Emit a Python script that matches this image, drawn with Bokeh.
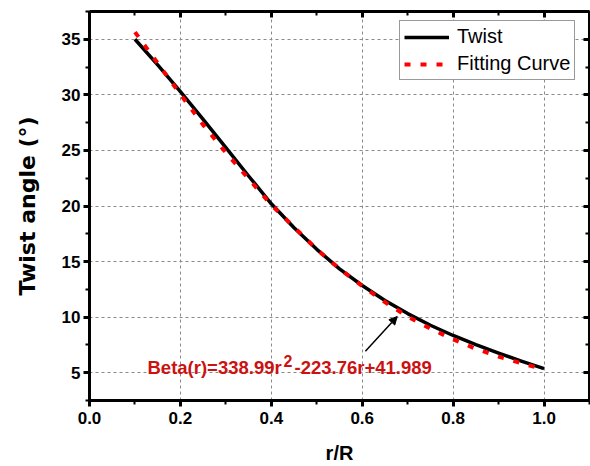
from bokeh.plotting import figure
from bokeh.models import (ColumnDataSource, Range1d, LinearAxis, SingleIntervalTicker,
                          PrintfTickFormatter, Legend, LegendItem, Label, Arrow, NormalHead,
                          CustomLabelingPolicy)
from bokeh.embed import file_html
from bokeh.resources import INLINE

# ---- data ----
r_twist = [0.10, 0.15, 0.20, 0.25, 0.30, 0.35, 0.40, 0.45, 0.50, 0.55,
           0.60, 0.65, 0.70, 0.75, 0.80, 0.85, 0.90, 0.95, 1.00]
twist = [35.0, 32.7, 30.3, 27.8, 25.25, 22.7, 20.2, 18.05, 16.1, 14.35,
         12.85, 11.5, 10.32, 9.27, 8.35, 7.53, 6.77, 6.04, 5.36]

r_fit = [0.10, 0.15, 0.20, 0.25, 0.30, 0.35, 0.40, 0.45, 0.50, 0.55,
         0.60, 0.65, 0.70, 0.75, 0.80, 0.85, 0.90, 0.95, 1.00]
fit = [35.65, 32.85, 30.05, 27.3, 24.8, 22.45, 20.1, 18.1, 16.1, 14.35,
       12.8, 11.35, 10.05, 8.97, 8.0, 7.15, 6.45, 5.85, 5.3]

x_range = (0.0, 1.1)
y_range = (2.5, 37.5)
x_tick_step = 0.2
y_tick_step = 5

series_names = ["Twist", "Fitting Curve"]
x_title = "r/R"
y_title = "Twist angle (°)"
eq_part1 = "Beta(r)=338.99r"
eq_sup = "2"
eq_part2 = "-223.76r+41.989"

# annotation anchor (data coords)
eq_x, eq_y = 0.1276, 5.45
arrow_tail = (0.607, 6.94)
arrow_head = (0.677, 10.06)

FONT = "Liberation Sans"
EQ_COLOR = "#cc1111"

p = figure(width=590, height=466, output_backend="svg", toolbar_location=None,
           x_range=Range1d(*x_range), y_range=Range1d(*y_range),
           min_border_left=89, min_border_right=1, min_border_top=11, min_border_bottom=63,
           background_fill_color="white", border_fill_color="white")
p.outline_line_color = None

xt = SingleIntervalTicker(interval=x_tick_step, num_minor_ticks=2)
yt = SingleIntervalTicker(interval=y_tick_step, num_minor_ticks=2)

# bottom axis
xa = p.xaxis[0]
xa.ticker = xt
xa.formatter = PrintfTickFormatter(format="%.1f")
xa.axis_label = x_title
# left axis
ya = p.yaxis[0]
ya.ticker = yt
ya.axis_label = y_title

for ax in (xa, ya):
    ax.axis_line_width = 3
    ax.axis_line_color = "black"
    ax.major_tick_line_width = 3
    ax.minor_tick_line_width = 2
    ax.major_tick_in = 0
    ax.major_tick_out = 6
    ax.minor_tick_in = 0
    ax.minor_tick_out = 4
    ax.major_label_text_font = FONT
    ax.major_label_text_font_style = "bold"
    ax.major_label_text_font_size = "17px"
    ax.major_label_text_color = "black"
    ax.axis_label_text_font = FONT
    ax.axis_label_text_font_style = "bold"
    ax.axis_label_text_font_size = "20px"
    ax.axis_label_text_color = "black"

ya.axis_label_text_font = "DejaVu Sans"
ya.axis_label_text_font_size = "22px"

xa.major_label_standoff = 5
xa.axis_label_standoff = 15
ya.major_label_standoff = 3
ya.axis_label_standoff = 19

# top and right mirror axes (ticks inward, no labels drawn)
no_labels = CustomLabelingPolicy(code="return new indices.constructor(indices.size, 0)")
top = LinearAxis(ticker=SingleIntervalTicker(interval=x_tick_step, num_minor_ticks=2))
right = LinearAxis(ticker=SingleIntervalTicker(interval=y_tick_step, num_minor_ticks=2))
for ax in (top, right):
    ax.axis_line_width = 3
    ax.major_tick_line_width = 3
    ax.minor_tick_line_width = 2
    ax.major_tick_in = 6
    ax.major_tick_out = 0
    ax.minor_tick_in = 4
    ax.minor_tick_out = 0
    ax.major_label_text_font_size = "0px"
    ax.major_label_standoff = 0
    ax.axis_label_standoff = 0
    ax.major_label_policy = no_labels
p.add_layout(top, "above")
p.add_layout(right, "right")

# grid
p.xgrid[0].ticker = xt
p.ygrid[0].ticker = yt
for g in (p.xgrid[0], p.ygrid[0]):
    g.grid_line_color = "#8a8a8a"
    g.grid_line_dash = "3 3"
    g.grid_line_width = 1

src_t = ColumnDataSource(dict(x=r_twist, y=twist))
src_f = ColumnDataSource(dict(x=r_fit, y=fit))
l1 = p.line("x", "y", source=src_t, line_color="black", line_width=3.5, line_join="round")
l2 = p.line("x", "y", source=src_f, line_color="red", line_width=4, line_dash="6 10")

legend = Legend(items=[LegendItem(label=series_names[0], renderers=[l1]),
                       LegendItem(label=series_names[1], renderers=[l2])],
                location=(310, 320))
legend.label_text_font = FONT
legend.label_text_font_size = "20px"
legend.label_text_color = "black"
legend.glyph_width = 45
legend.glyph_height = 20
legend.label_height = 20
legend.label_standoff = 8
legend.padding = 4
legend.spacing = 4
legend.margin = 0
legend.border_line_color = "#333333"
legend.border_line_width = 1
legend.background_fill_color = "white"
legend.background_fill_alpha = 1
p.add_layout(legend)

common = dict(x=eq_x, y=eq_y, text_font=FONT, text_font_style="bold",
              text_color=EQ_COLOR, text_baseline="alphabetic")
p.add_layout(Label(text=eq_part1, text_font_size="18.5px", **common))
p.add_layout(Label(text=eq_sup, text_font_size="16px", x_offset=136, y_offset=7, **common))
p.add_layout(Label(text=eq_part2, text_font_size="18.5px", x_offset=147, **common))

p.add_layout(Arrow(end=NormalHead(size=8, fill_color="black", line_color="black"),
                   x_start=arrow_tail[0], y_start=arrow_tail[1],
                   x_end=arrow_head[0], y_end=arrow_head[1],
                   line_color="black", line_width=1.5))

open("out.html", "w").write(file_html(p, INLINE))
